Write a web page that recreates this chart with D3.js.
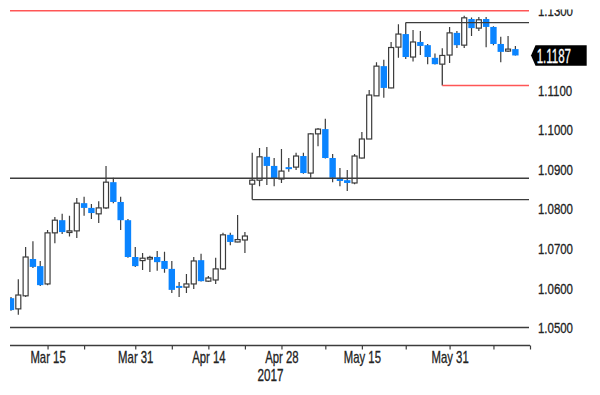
<!DOCTYPE html>
<html>
<head>
<meta charset="utf-8">
<script src="https://cdn.jsdelivr.net/npm/d3@7/dist/d3.min.js"></script>
<style>
  html, body { margin: 0; padding: 0; background: #fff; }
  svg { display: block; }
  text { font-family: "Liberation Sans", Arial, sans-serif; fill: #222; }
  .lbl { stroke: #222; stroke-width: 0.3px; }
</style>
</head>
<body>
<div id="chart"></div>
<script>
// ---- data (EUR/USD daily, 2017) ----
const dates = [
  "2017-03-08","2017-03-09","2017-03-10","2017-03-13","2017-03-14","2017-03-15","2017-03-16","2017-03-17",
  "2017-03-20","2017-03-21","2017-03-22","2017-03-23","2017-03-24","2017-03-27","2017-03-28","2017-03-29",
  "2017-03-30","2017-03-31","2017-04-03","2017-04-04","2017-04-05","2017-04-06","2017-04-07","2017-04-10",
  "2017-04-11","2017-04-12","2017-04-13","2017-04-14","2017-04-17","2017-04-18","2017-04-19","2017-04-20",
  "2017-04-21","2017-04-24","2017-04-25","2017-04-26","2017-04-27","2017-04-28","2017-05-01","2017-05-02",
  "2017-05-03","2017-05-04","2017-05-05","2017-05-08","2017-05-09","2017-05-10","2017-05-11","2017-05-12",
  "2017-05-15","2017-05-16","2017-05-17","2017-05-18","2017-05-19","2017-05-22","2017-05-23","2017-05-24",
  "2017-05-25","2017-05-26","2017-05-29","2017-05-30","2017-05-31","2017-06-01","2017-06-02","2017-06-05",
  "2017-06-06","2017-06-07","2017-06-08","2017-06-09","2017-06-12","2017-06-13"
];
const futureDates = ["2017-06-14","2017-06-15"];

const opens = [
  1.0574,1.0547,1.0580,1.0673,1.0655,1.0610,1.0739,1.0771,1.0742,1.0744,1.0814,1.0802,1.0787,1.0802,1.0867,1.0817,
  1.0771,1.0678,1.0669,1.0676,1.0678,1.0668,1.0648,1.0605,1.0602,1.0610,1.0670,1.0617,1.0620,1.0648,1.0734,1.0716,
  1.0721,1.0862,1.0872,1.0931,1.0908,1.0875,1.0905,1.0905,1.0933,1.0890,1.0989,1.1001,1.0928,1.0878,1.0872,1.0865,
  1.0928,1.0976,1.1085,1.1160,1.1105,1.1208,1.1241,1.1183,1.1221,1.1213,1.1181,1.1165,1.1188,1.1244,1.1213,1.1279,
  1.1256,1.1279,1.1259,1.1216,1.1198,1.1203
];
const highs = [
  1.0577,1.0622,1.0703,1.0718,1.0668,1.0746,1.0779,1.0787,1.0782,1.0827,1.0830,1.0812,1.0819,1.0908,1.0878,1.0830,
  1.0774,1.0703,1.0688,1.0681,1.0693,1.0691,1.0668,1.0615,1.0635,1.0678,1.0686,1.0630,1.0676,1.0739,1.0739,1.0784,
  1.0741,1.0941,1.0953,1.0956,1.0928,1.0951,1.0928,1.0941,1.0941,1.0991,1.1004,1.1027,1.0938,1.0903,1.0898,1.0938,
  1.0994,1.1100,1.1170,1.1176,1.1221,1.1266,1.1241,1.1251,1.1249,1.1216,1.1192,1.1205,1.1259,1.1249,1.1287,1.1283,
  1.1284,1.1284,1.1261,1.1234,1.1236,1.1211
];
const lows = [
  1.0542,1.0532,1.0577,1.0650,1.0605,1.0607,1.0713,1.0736,1.0730,1.0726,1.0782,1.0774,1.0764,1.0799,1.0814,1.0746,
  1.0676,1.0653,1.0645,1.0640,1.0643,1.0638,1.0587,1.0577,1.0587,1.0597,1.0616,1.0615,1.0610,1.0645,1.0708,1.0715,
  1.0688,1.0861,1.0857,1.0860,1.0857,1.0865,1.0893,1.0898,1.0888,1.0878,1.0958,1.0927,1.0867,1.0857,1.0845,1.0862,
  1.0927,1.0976,1.1085,1.1080,1.1104,1.1181,1.1178,1.1172,1.1188,1.1165,1.1164,1.1164,1.1168,1.1206,1.1206,1.1236,
  1.1249,1.1208,1.1213,1.1170,1.1196,1.1187
];
const closes = [
  1.0544,1.0582,1.0678,1.0653,1.0607,1.0739,1.0771,1.0741,1.0744,1.0814,1.0802,1.0789,1.0802,1.0867,1.0817,1.0771,
  1.0678,1.0655,1.0675,1.0677,1.0665,1.0648,1.0595,1.0600,1.0610,1.0668,1.0617,1.0625,1.0648,1.0734,1.0716,1.0722,
  1.0731,1.0872,1.0931,1.0908,1.0875,1.0895,1.0903,1.0933,1.0890,1.0989,1.1001,1.0928,1.0878,1.0870,1.0865,1.0933,
  1.0976,1.1087,1.1160,1.1105,1.1207,1.1241,1.1183,1.1221,1.1211,1.1183,1.1165,1.1187,1.1244,1.1213,1.1282,1.1256,
  1.1277,1.1259,1.1216,1.1196,1.1203,1.1187
];

const yTicks = [1.05, 1.06, 1.07, 1.08, 1.09, 1.10, 1.11, 1.13];
const yTickLabels = ["1.0500","1.0600","1.0700","1.0800","1.0900","1.1000","1.1100","1.1300"];
const lastPriceLabel = "1.1187";
const xTickDates = ["2017-03-15","2017-03-22","2017-03-31","2017-04-07","2017-04-14","2017-04-21","2017-04-28",
                    "2017-05-08","2017-05-15","2017-05-23","2017-05-31","2017-06-08","2017-06-15"];
const xTickLabels = ["Mar 15","","Mar 31","","Apr 14","","Apr 28","","May 15","","May 31","",""];
const yearLabel = "2017";

// horizontal levels: value, start date (null = full width), kind, anchor on the start candle
const levelValues = [1.1300, 1.1111, 1.1270, 1.0877, 1.0823, 1.0500];
const levelStarts = [null, "2017-05-30", "2017-05-23", null, "2017-04-24", null];
const levelKinds  = ["red", "red", "dark", "dark", "dark", "dark"];
const levelAnchors = [null, "low", "high", null, "low", null];

// ---- layout ----
const W = 600, H = 395;
const plotL = 10, plotR = 530, plotT = 9.5, axisY = 345.5;
const BLUE = "#0a84ff", RED = "#ff5656", DARK = "#3c3c3c";

const allDates = dates.concat(futureDates);
const idx = d => allDates.indexOf(d);

const x = d3.scaleLinear().domain([0, allDates.length - 1]).range([11, 530]);
const y = d3.scaleLinear().domain([1.05, 1.13]).range([327.5, 10.7]);

const svg = d3.select("#chart").append("svg").attr("width", W).attr("height", H);
const defs = svg.append("defs");
defs.append("clipPath").attr("id", "plotClip")
  .append("rect").attr("x", plotL).attr("y", plotT).attr("width", plotR - plotL).attr("height", axisY - plotT);
defs.append("clipPath").attr("id", "topClip")
  .append("rect").attr("x", 0).attr("y", plotT).attr("width", W).attr("height", H - plotT);

const root = svg.append("g").attr("clip-path", "url(#topClip)");
const plot = root.append("g").attr("clip-path", "url(#plotClip)");

// levels
const lineRight = 529;
levelValues.forEach((v, k) => {
  const col = levelKinds[k] === "red" ? RED : DARK;
  const sw = levelKinds[k] === "red" ? 1.6 : 1.4;
  const ly = y(v);
  if (levelStarts[k] === null) {
    root.append("line").attr("x1", plotL).attr("x2", lineRight).attr("y1", ly).attr("y2", ly)
      .attr("stroke", col).attr("stroke-width", sw);
  } else {
    const i = idx(levelStarts[k]);
    const cx = x(i);
    const anchorV = levelAnchors[k] === "low" ? lows[i] : highs[i];
    root.append("line").attr("x1", cx).attr("x2", cx).attr("y1", y(anchorV)).attr("y2", ly)
      .attr("stroke", DARK).attr("stroke-width", 1.3);
    root.append("line").attr("x1", cx).attr("x2", lineRight).attr("y1", ly).attr("y2", ly)
      .attr("stroke", col).attr("stroke-width", sw);
  }
});

// candles
const candles = dates.map((d, i) => ({ d, i, o: opens[i], h: highs[i], l: lows[i], c: closes[i] }));
const bw = 6.4;
const cg = plot.selectAll("g.candle").data(candles).enter().append("g").attr("class", "candle");
cg.append("line")
  .attr("x1", d => x(d.i)).attr("x2", d => x(d.i))
  .attr("y1", d => y(d.h)).attr("y2", d => y(d.l))
  .attr("stroke", DARK).attr("stroke-width", 1.2);
cg.each(function(d) {
  const g = d3.select(this);
  const up = d.c >= d.o;
  const top = y(Math.max(d.o, d.c)), bot = y(Math.min(d.o, d.c));
  if (up) {
    const h = Math.max(bot - top, 1.6);
    g.append("rect").attr("x", x(d.i) - (bw - 1.4) / 2).attr("y", top).attr("width", bw - 1.4).attr("height", h)
      .attr("fill", "#fff").attr("stroke", DARK).attr("stroke-width", 1.2);
  } else {
    const h = Math.max(bot - top, 2);
    g.append("rect").attr("x", x(d.i) - bw / 2).attr("y", top).attr("width", bw).attr("height", h)
      .attr("fill", BLUE);
  }
});

// x axis
const xAxis = d3.axisBottom(x)
  .tickValues(xTickDates.map(idx))
  .tickSize(4).tickSizeOuter(0).tickPadding(2.5)
  .tickFormat((v, k) => xTickLabels[k]);
const xg = root.append("g").attr("transform", `translate(0,${axisY})`).call(xAxis);
xg.select(".domain").remove();
xg.append("line").attr("x1", plotL).attr("x2", plotR).attr("y1", 0).attr("y2", 0)
  .attr("stroke", DARK).attr("stroke-width", 1.3);
xg.selectAll(".tick line").attr("stroke", DARK).attr("stroke-width", 1.2);
xg.selectAll(".tick text").attr("font-size", 16).attr("fill", "#222").attr("class", "lbl")
  .attr("font-family", "Liberation Sans, Arial, sans-serif")
  .attr("transform", "scale(0.71,1)");

root.append("text").attr("class", "lbl")
  .attr("transform", `translate(${x(idx("2017-04-27")) - 3.6},381) scale(0.73,1)`)
  .attr("text-anchor", "middle").attr("font-size", 16).text(yearLabel);

// y axis (right)
const yAxis = d3.axisRight(y).tickValues(yTicks).tickSize(0).tickPadding(0)
  .tickFormat((v, k) => yTickLabels[k]);
const yg = root.append("g").attr("transform", "translate(538,0)").call(yAxis);
yg.select(".domain").remove();
yg.selectAll(".tick text").attr("font-size", 14.5).attr("fill", "#222").attr("class", "lbl")
  .attr("font-family", "Liberation Sans, Arial, sans-serif")
  .attr("dy", "0.36em").attr("transform", "scale(0.79,1)");

// last price tag
const last = closes[closes.length - 1];
const ty = y(last);
root.append("path")
  .attr("d", `M531,${ty} L535.5,${ty - 10.3} L586.7,${ty - 10.3} L586.7,${ty + 10.3} L535.5,${ty + 10.3} Z`)
  .attr("fill", "#000");
root.append("text")
  .attr("transform", `translate(536.7,${ty + 7.3}) scale(0.59,1)`)
  .attr("font-size", 19.5).style("fill", "#fff").style("stroke", "#fff").style("stroke-width", "0.3px")
  .text(lastPriceLabel);
</script>
</body>
</html>
